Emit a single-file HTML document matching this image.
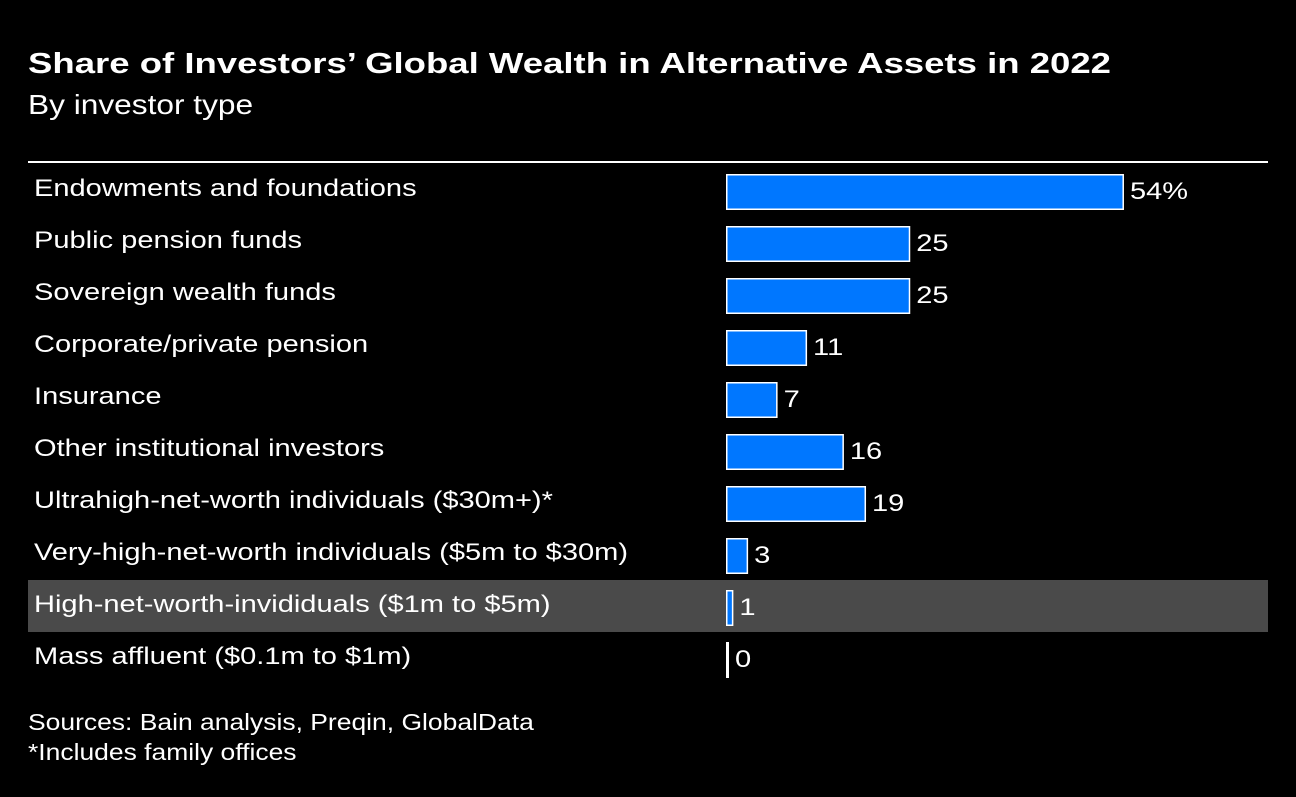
<!DOCTYPE html>
<html><head><meta charset="utf-8"><style>
body{margin:0;background:#000;width:1296px;height:792px;overflow:hidden;font-family:"Liberation Sans",Arial,sans-serif;color:#fff}
</style></head><body>
<svg width="1296" height="792" xmlns="http://www.w3.org/2000/svg">
<text class="sx" data-sx="1.26" x="28" y="73" font-size="29" font-weight="bold" fill="#fff">Share of Investors’ Global Wealth in Alternative Assets in 2022</text>
<text class="sx" data-sx="1.13" x="28" y="114" font-size="28" fill="#fff">By investor type</text>
<rect x="28" y="161" width="1240" height="2" fill="#fff"/>
<rect x="28" y="580" width="1240" height="52" fill="#4a4a4a"/>
<g id="rows"></g>
<text class="sx" data-sx="1.15" x="28" y="730" font-size="23" fill="#fff">Sources: Bain analysis, Preqin, GlobalData</text>
<text class="sx" data-sx="1.15" x="28" y="760" font-size="23" fill="#fff">*Includes family offices</text>
</svg>
<script>
const categories=["Endowments and foundations","Public pension funds","Sovereign wealth funds","Corporate/private pension","Insurance","Other institutional investors","Ultrahigh-net-worth individuals ($30m+)*","Very-high-net-worth individuals ($5m to $30m)","High-net-worth-invididuals ($1m to $5m)","Mass affluent ($0.1m to $1m)"];
const values=[54,25,25,11,7,16,19,3,1,0];
const valueLabels=["54%","25","25","11","7","16","19","3","1","0"];
const ns="http://www.w3.org/2000/svg";
const g=document.getElementById('rows');
const x0=726, pxPer=7.37, rowTop=174, rowStep=52, barH=36;
function xs(v){return Math.max(3,v*pxPer);}
categories.forEach((c,i)=>{
  const y=rowTop+i*rowStep;
  const t=document.createElementNS(ns,'text');
  
  
  t.setAttribute('class','sx');t.setAttribute('data-sx','1.21');
  t.setAttribute('x',34);t.setAttribute('y',y+22);t.setAttribute('font-size','24');t.setAttribute('fill','#fff');
  t.textContent=c;g.appendChild(t);
  const w=xs(values[i]);
  const r=document.createElementNS(ns,'rect');
  
  
  if(values[i]>0){
    r.setAttribute('x',x0+0.75);r.setAttribute('y',y+0.75);r.setAttribute('width',w-1.5);r.setAttribute('height',barH-1.5);
    r.setAttribute('fill','#0077ff');r.setAttribute('stroke','#fff');r.setAttribute('stroke-width','1.5');
  } else {
    r.setAttribute('x',x0);r.setAttribute('y',y);r.setAttribute('width',3);r.setAttribute('height',barH);r.setAttribute('fill','#fff');
  }
  g.appendChild(r);
  const v=document.createElementNS(ns,'text');
  
  
  v.setAttribute('class','sx');v.setAttribute('data-sx','1.21');
  v.setAttribute('x',x0+w+6);v.setAttribute('y',y+25);v.setAttribute('font-size','24');v.setAttribute('fill','#fff');
  v.textContent=valueLabels[i];g.appendChild(v);
});
document.querySelectorAll('text.sx').forEach(el=>{
  const n=el.getComputedTextLength();
  el.setAttribute('lengthAdjust','spacingAndGlyphs');
  el.setAttribute('textLength',(n*parseFloat(el.getAttribute('data-sx'))).toFixed(1));
});
</script>
</body></html>
